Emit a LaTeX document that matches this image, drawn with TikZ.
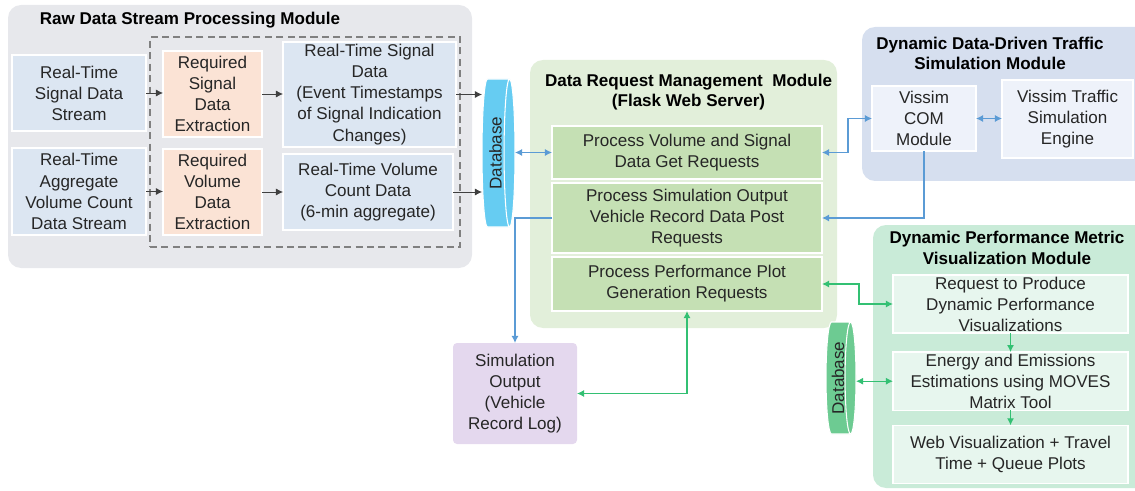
\documentclass[tikz,border=0pt]{standalone}
\usepackage{fontspec}
\setmainfont{Liberation Sans}
\usetikzlibrary{positioning,shapes.geometric,arrows.meta}

\definecolor{rawgray}{HTML}{E7E8EC}
\definecolor{streamblue}{HTML}{DCE6F2}
\definecolor{extorange}{HTML}{FBE3D5}
\definecolor{drmgreen}{HTML}{E2EFDA}
\definecolor{reqgreen}{HTML}{C5E0B4}
\definecolor{simblue}{HTML}{D6DFEF}
\definecolor{comblue}{HTML}{EEF2FA}
\definecolor{perfmint}{HTML}{C9EBD8}
\definecolor{vispale}{HTML}{E7F6EE}
\definecolor{logpurple}{HTML}{E4D8EE}
\definecolor{dbblue}{HTML}{66CCF2}
\definecolor{dbgreen}{HTML}{6DCB92}
\definecolor{linkblue}{HTML}{5B9BD5}
\definecolor{linkgreen}{HTML}{00B050}
\definecolor{txt}{HTML}{262626}

\begin{document}
\begin{tikzpicture}[
		>={Latex[length=4pt,width=4pt]},
		every node/.style = {
			font=\fontsize{9.7}{12}\selectfont,
			text=txt,
			align=center,
			outer sep=0cm,
			inner sep=1pt
			},
		module/.style = {fill=#1, rounded corners=0.26cm, anchor=north west},
		title/.style = {font=\fontsize{9.7}{11.5}\selectfont\bfseries, text=black},
		box/.style = {fill=#1, draw=white, line width=0.8pt},
		database/.style = {cylinder, shape border rotate=0, aspect=0.15, inner sep=0pt,
			cylinder uses custom fill, cylinder body fill=#1, cylinder end fill=#1,
			draw=white, line width=0.6pt},
		feed/.style = {->, draw=black!75, line width=0.5pt},
		bluelink/.style = {draw=linkblue, line width=0.7pt},
		greenlink/.style = {draw=linkgreen!80, line width=0.7pt}
		]
		\useasboundingbox (0,0) rectangle (22.7,-9.82);

		% module backgrounds
		\node [module=rawgray, minimum width=9.28cm, minimum height=5.26cm] (rawmod) at (0.16,-0.10) {};
		\node [module=drmgreen, minimum width=6.14cm, minimum height=5.36cm] (drmmod) at (10.6,-1.2) {};
		\node [module=simblue, minimum width=5.8cm, minimum height=3.08cm] (simmod) at (17.24,-0.54) {};
		\node [module=perfmint, minimum width=5.6cm, minimum height=5.26cm] (perfmod) at (17.46,-4.5) {};

		\node [title] (rawtitle) at (3.8,-0.40) {Raw Data Stream Processing Module};
		\node [title] (drmtitle) at (13.77,-1.84) {Data Request Management\ \ Module\\(Flask Web Server)};
		\node [title] (simtitle) at (19.8,-1.07) {Dynamic Data-Driven Traffic\\Simulation Module};
		\node [title] (perftitle) at (20.14,-4.96) {Dynamic Performance Metric\\Visualization Module};

		\node [draw=black!50, dashed, dash pattern=on 4pt off 2.5pt, line width=0.7pt,
			minimum width=6.2cm, minimum height=4.2cm, anchor=north west] (extframe) at (3.0,-0.74) {};

		% raw data streams
		\node [box=streamblue, minimum width=2.68cm, minimum height=1.52cm] (sigstream) at (1.58,-1.86) {Real-Time\\Signal Data\\Stream};
		\node [box=streamblue, minimum width=2.68cm, minimum height=1.74cm] (volstream) at (1.58,-3.83) {Real-Time\\Aggregate\\Volume Count\\Data Stream};
		\node [box=extorange, minimum width=1.98cm, minimum height=1.72cm] (sigext) at (4.25,-1.88) {Required\\Signal\\Data\\Extraction};
		\node [box=extorange, minimum width=1.98cm, minimum height=1.72cm] (volext) at (4.25,-3.84) {Required\\Volume\\Data\\Extraction};
		\node [box=streamblue, minimum width=3.46cm, minimum height=2.1cm] (sigdata) at (7.39,-1.89) {Real-Time Signal\\Data\\(Event Timestamps\\of Signal Indication\\Changes)};
		\node [box=streamblue, minimum width=3.4cm, minimum height=1.52cm] (voldata) at (7.36,-3.84) {Real-Time Volume\\Count Data\\(6-min aggregate)};

		\node [database=dbblue, minimum height=0.66cm, minimum width=2.96cm] (db1) at (9.91,-3.06) {\rotatebox{90}{Database}};

		% request handlers
		\node [box=reqgreen, minimum width=5.4cm, minimum height=1.06cm] (req1) at (13.74,-3.05) {Process Volume and Signal\\Data Get Requests};
		\node [box=reqgreen, minimum width=5.4cm, minimum height=1.4cm, below=0.08cm of req1] (req2) {Process Simulation Output\\Vehicle Record Data Post\\Requests};
		\node [box=reqgreen, minimum width=5.4cm, minimum height=1.08cm, below=0.08cm of req2] (req3) {Process Performance Plot\\Generation Requests};

		% simulation
		\node [box=comblue, minimum width=2.08cm, minimum height=1.3cm] (com) at (18.48,-2.37) {Vissim\\COM\\Module};
		\node [box=comblue, minimum width=2.62cm, minimum height=1.56cm] (engine) at (21.35,-2.38) {Vissim Traffic\\Simulation\\Engine};

		% visualization
		\node [box=vispale, minimum width=4.7cm, minimum height=1.16cm] (vis1) at (20.21,-6.08) {Request to Produce\\Dynamic Performance\\Visualizations};
		\node [box=vispale, minimum width=4.7cm, minimum height=1.14cm, below=0.38cm of vis1] (vis2) {Energy and Emissions\\Estimations using MOVES\\Matrix Tool};
		\node [box=vispale, minimum width=4.7cm, minimum height=1.16cm, below=0.3cm of vis2] (vis3) {Web Visualization + Travel\\Time + Queue Plots};

		\node [database=dbgreen, minimum height=0.6cm, minimum width=2.24cm] (db2) at (16.76,-7.56) {\rotatebox{90}{Database}};

		\node [fill=logpurple, rounded corners=0.08cm, minimum width=2.48cm, minimum height=2.02cm] (simout) at (10.3,-7.87) {Simulation\\Output\\(Vehicle\\Record Log)};

		% connectors
		\draw[feed] (sigstream.east) -- (sigstream.east -| sigext.west);
		\draw[feed] (volstream.east) -- (volstream.east -| volext.west);
		\draw[feed] (sigext.east) -- (sigext.east -| sigdata.west);
		\draw[feed] (volext.east) -- (volext.east -| voldata.west);
		\draw[feed] (sigdata.east) -- (sigdata.east -| db1.west);
		\draw[feed] (voldata.east) -- (voldata.east -| db1.west);

		\draw[<->, bluelink] (req1.west -| db1.east) -- (req1.west);
		\draw[<->, bluelink] (req1.east) -| ++(0.52,0) |- (com.west);
		\draw[<->, bluelink] (com.east) -- (com.east -| engine.west);
		\draw[->, bluelink] (com.south) |- (req2.east);
		\draw[->, bluelink] (req2.west) -| (simout.north);

		\draw[<->, greenlink] (simout.east) -| (req3.south);
		\draw[<->, greenlink] (req3.east) -| ++(0.74,0) |- (vis1.west);
		\draw[->, greenlink] (vis1) -- (vis2);
		\draw[->, greenlink] (vis2) -- (vis3);
		\draw[<->, greenlink] (vis2.west -| db2.east) -- (vis2.west);

	\end{tikzpicture}
\end{document}
